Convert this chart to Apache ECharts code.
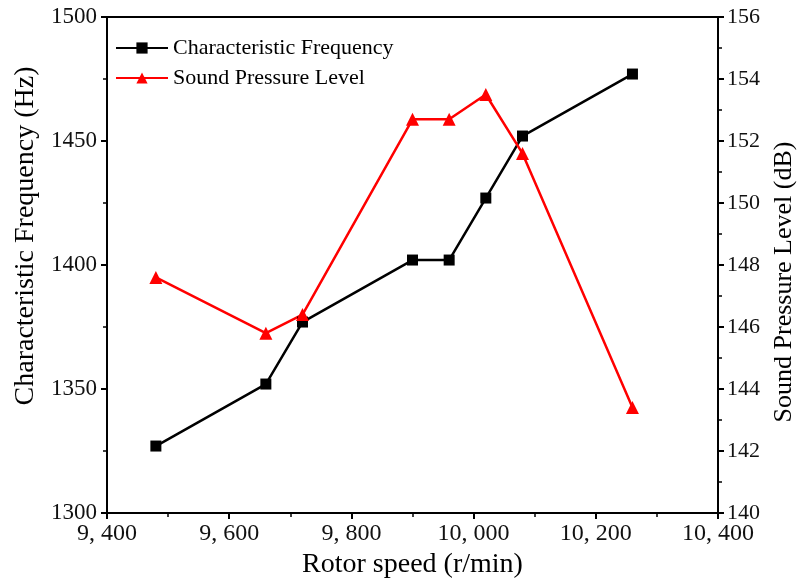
<!DOCTYPE html>
<html>
<head>
<meta charset="utf-8">
<script src="https://cdn.jsdelivr.net/npm/echarts@6/dist/echarts.min.js"></script>
<style>html,body{margin:0;padding:0;background:#fff;}#c{width:797px;height:581px;}</style>
</head>
<body>
<div id="c"></div>
<script>
const rotorSpeed = [9480, 9660, 9720, 9900, 9960, 10020, 10080, 10260];
const charFreq = [1327, 1352, 1377, 1402, 1402, 1427, 1452, 1477];
const splValues = [147.6, 145.8, 146.4, 152.7, 152.7, 153.5, 151.6, 143.4];
const seriesNames = ['Characteristic Frequency', 'Sound Pressure Level'];

const font = 'Liberation Serif';
const chart = echarts.init(document.getElementById('c'));
const axisCommon = {
  axisLine: {show: true, lineStyle: {color: '#000', width: 2}},
  axisTick: {show: true, length: 6, lineStyle: {color: '#000', width: 2}},
  minorTick: {show: true, splitNumber: 2, length: 4, lineStyle: {color: '#000', width: 1.5}},
  splitLine: {show: false},
  axisLabel: {color: '#111', fontFamily: font, fontSize: 23},
  nameTextStyle: {color: '#000', fontFamily: font, fontSize: 28}
};
chart.setOption({
  animation: false,
  grid: {left: 107, right: 79, top: 17, bottom: 68, show: true, borderColor: '#000', borderWidth: 2,
         containLabel: false, outerBoundsMode: 'none'},
  legend: {
    orient: 'vertical', left: 110, top: 32, itemGap: 8,
    itemWidth: 52, itemHeight: 14,
    textStyle: {fontFamily: font, fontSize: 22, color: '#000'},
    data: seriesNames
  },
  xAxis: Object.assign({}, axisCommon, {
    type: 'value', min: 9400, max: 10400, interval: 200,
    name: 'Rotor speed (r/min)', nameLocation: 'middle', nameGap: 38, nameMoveOverlap: false,
    axisLabel: Object.assign({}, axisCommon.axisLabel, {
      margin: 9, fontSize: 24,
      formatter: v => Math.floor(v / 1000) + ', ' + String(v % 1000).padStart(3, '0')
    })
  }),
  yAxis: [
    Object.assign({}, axisCommon, {
      type: 'value', min: 1300, max: 1500, interval: 50,
      name: 'Characteristic Frequency (Hz)', nameLocation: 'middle', nameGap: 56,
      nameTextStyle: Object.assign({}, axisCommon.nameTextStyle, {padding: [0, 0, 0, 58]}),
      axisLabel: Object.assign({}, axisCommon.axisLabel, {margin: 10, formatter: v => String(v)})
    }),
    Object.assign({}, axisCommon, {
      type: 'value', min: 140, max: 156, interval: 2, position: 'right',
      name: 'Sound Pressure Level (dB)', nameLocation: 'middle', nameGap: 52,
      nameTextStyle: Object.assign({}, axisCommon.nameTextStyle, {fontSize: 26, padding: [0, 34, 0, 0]}),
      axisLabel: Object.assign({}, axisCommon.axisLabel, {margin: 9, fontSize: 22, formatter: v => String(v)})
    })
  ],
  series: [
    {
      name: seriesNames[0], type: 'line', yAxisIndex: 0,
      data: rotorSpeed.map((x, i) => [x, charFreq[i]]),
      symbol: 'rect', symbolSize: 11,
      lineStyle: {color: '#000', width: 2.5}, itemStyle: {color: '#000'}
    },
    {
      name: seriesNames[1], type: 'line', yAxisIndex: 1,
      data: rotorSpeed.map((x, i) => [x, splValues[i]]),
      symbol: 'triangle', symbolSize: 13,
      lineStyle: {color: '#ff0000', width: 2.5}, itemStyle: {color: '#ff0000'}
    }
  ]
});
</script>
</body>
</html>
